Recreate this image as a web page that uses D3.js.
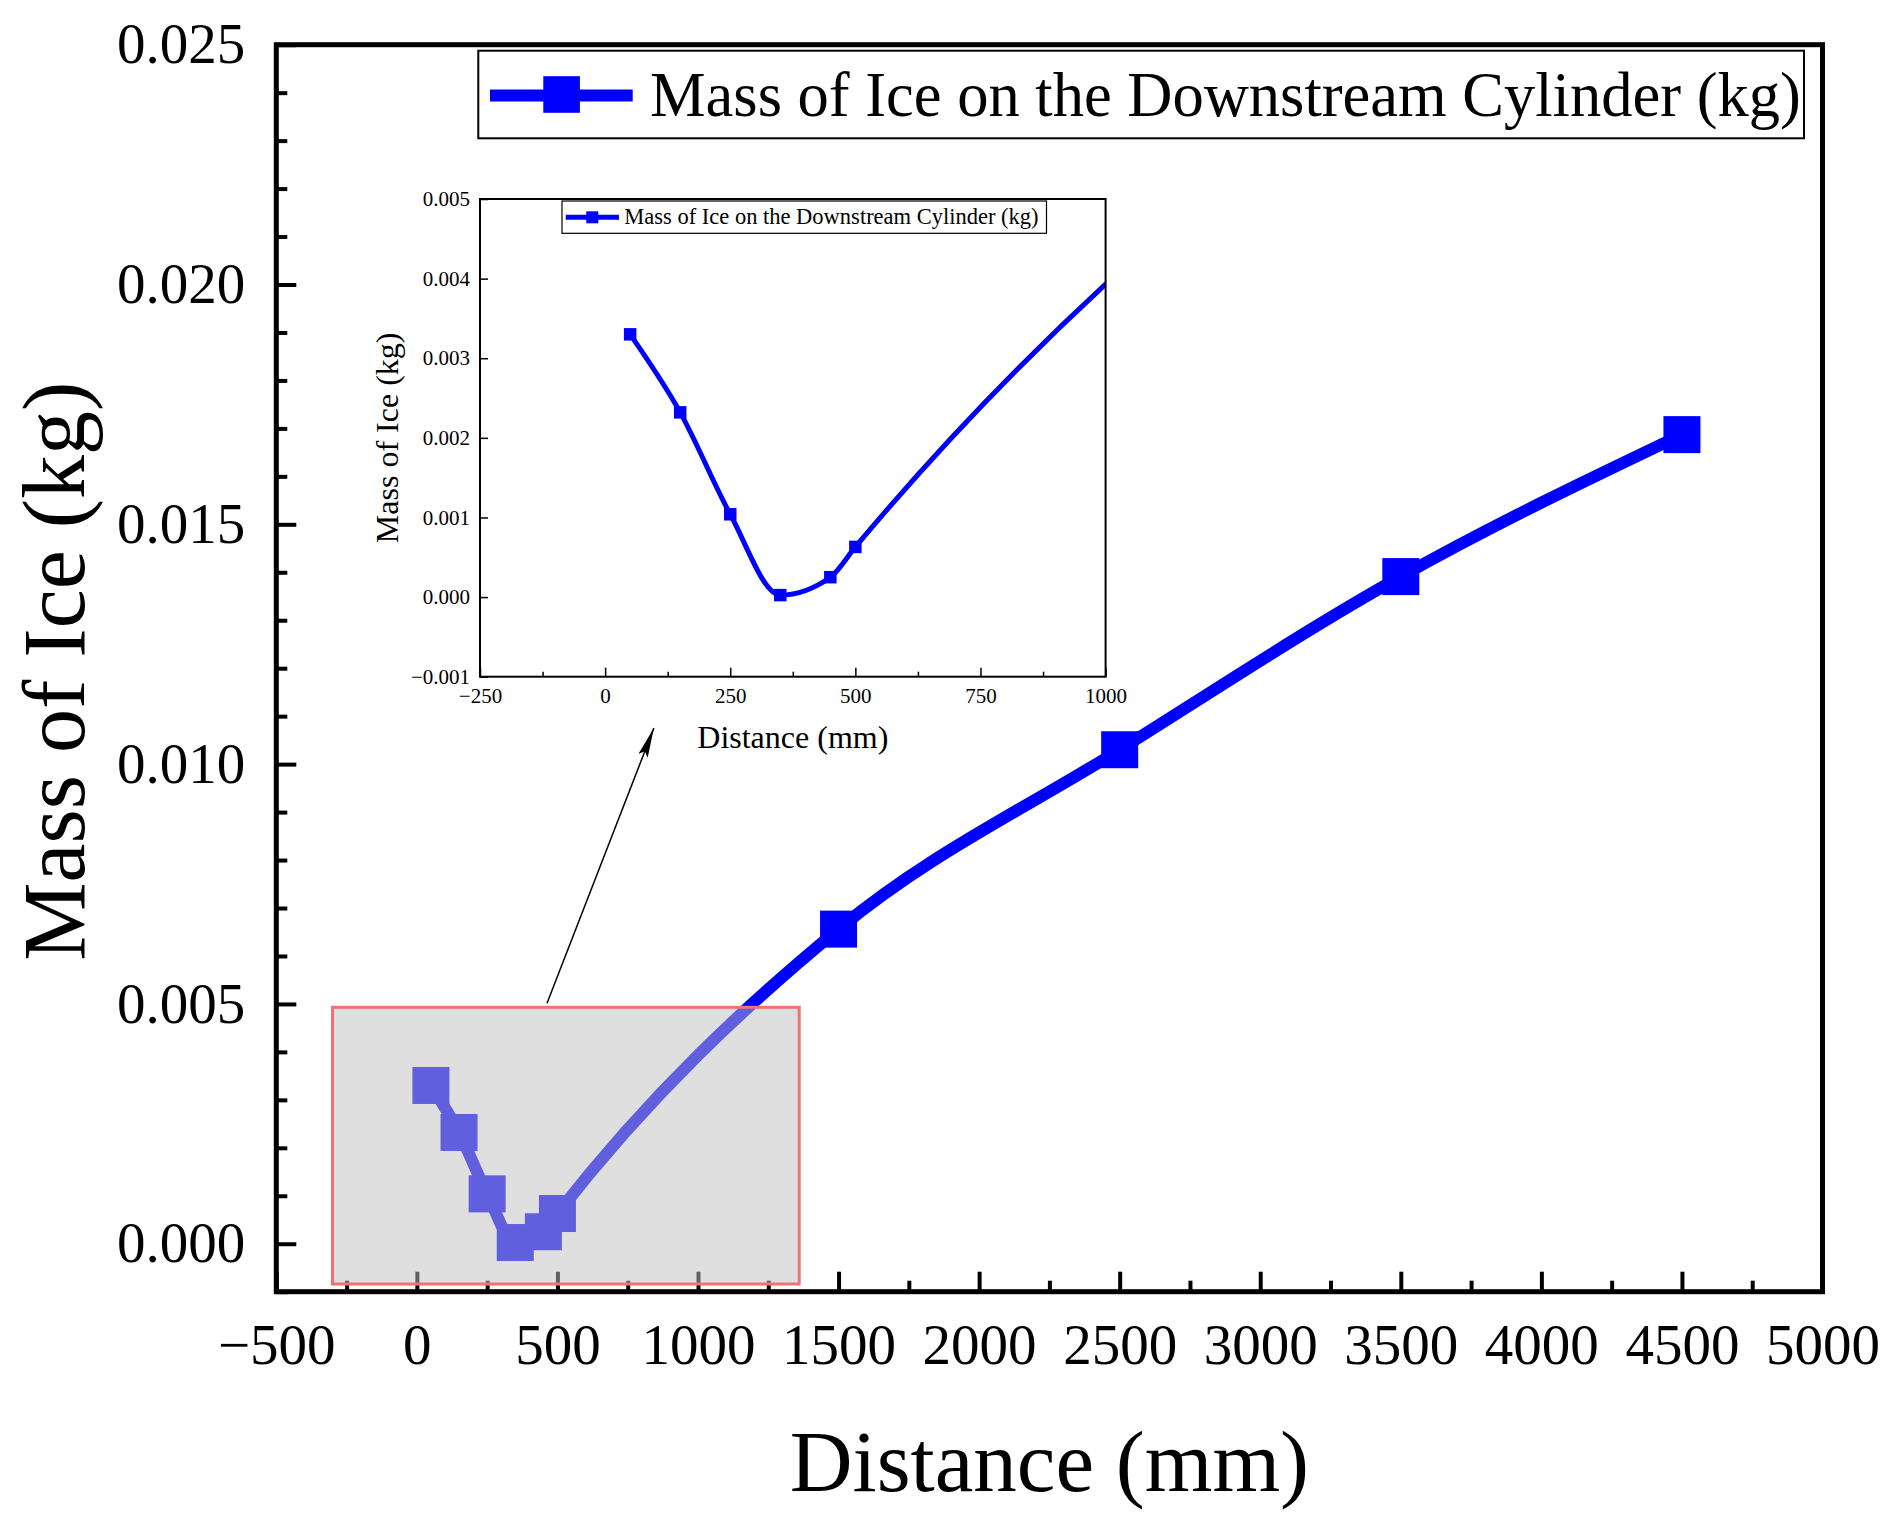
<!DOCTYPE html>
<html><head><meta charset="utf-8">
<script src="https://cdn.jsdelivr.net/npm/d3@7/dist/d3.min.js"></script>
<style>
body{margin:0;background:#fff}
svg{display:block}
text{font-family:"Liberation Serif","Times New Roman",serif;fill:#000}
</style>
</head><body>
<svg id="c" width="1897" height="1530"></svg>
<script>
// ---- data ----
const distance = [50, 150, 250, 350, 450, 500, 1500, 2500, 3500, 4500];
const iceMass  = [0.0033, 0.00232, 0.00104, 0.000025, 0.00025, 0.00063, 0.00656, 0.0103, 0.01391, 0.01687];
const seriesName = "Mass of Ice on the Downstream Cylinder (kg)";
const xTitle = "Distance (mm)";
const yTitle = "Mass of Ice (kg)";
const mainXTicks = [-500, 0, 500, 1000, 1500, 2000, 2500, 3000, 3500, 4000, 4500, 5000];
const mainXMinor = [-250, 250, 750, 1250, 1750, 2250, 2750, 3250, 3750, 4250, 4750];
const mainYTicks = [0, 0.005, 0.010, 0.015, 0.020, 0.025];
const mainYMinor = [-0.001, 0.001, 0.002, 0.003, 0.004, 0.006, 0.007, 0.008, 0.009, 0.011, 0.012, 0.013, 0.014, 0.016, 0.017, 0.018, 0.019, 0.021, 0.022, 0.023, 0.024];
const insetXTicks = [-250, 0, 250, 500, 750, 1000];
const insetXMinor = [-125, 125, 375, 625, 875];
const insetYTicks = [-0.001, 0, 0.001, 0.002, 0.003, 0.004, 0.005];
const zoomRegionX = [-300, 1360];
const zoomRegionY = [-0.00084, 0.00493];

const data = distance.map((d, i) => ({x: d, y: iceMass[i]}));
const svg = d3.select("#c");
const BLUE = "#0000ff";

// ---- main scales ----
const L = 276.3, R = 1822.5, T = 44.7, B = 1291.7;
const x = d3.scaleLinear().domain([-500, 5000]).range([L, R]);
const y = d3.scaleLinear().domain([-0.001, 0.025]).range([B, T]);

// ---- inset scales ----
const iL = 480, iR = 1105.6, iT = 199, iB = 676.7;
const xi = d3.scaleLinear().domain([-250, 1000]).range([iL, iR]);
const yi = d3.scaleLinear().domain([-0.001, 0.005]).range([iB, iT]);

// ---- main series ----
const mainLine = d3.line().x(d => x(d.x)).y(d => y(d.y)).curve(d3.curveMonotoneX);
svg.append("path").datum(data).attr("d", mainLine)
  .attr("fill", "none").attr("stroke", BLUE).attr("stroke-width", 12).attr("stroke-linejoin", "round");
const MS = 37;
svg.append("g").selectAll("rect").data(data).join("rect")
  .attr("x", d => x(d.x) - MS / 2).attr("y", d => y(d.y) - MS / 2)
  .attr("width", MS).attr("height", MS).attr("fill", BLUE);

// ---- inset ----
const inset = svg.append("g");
inset.append("rect").attr("x", iL).attr("y", iT).attr("width", iR - iL).attr("height", iB - iT).attr("fill", "#fff");
svg.append("defs").append("clipPath").attr("id", "iclip")
  .append("rect").attr("x", iL).attr("y", iT).attr("width", iR - iL).attr("height", iB - iT);
const insetLine = d3.line().x(d => xi(d.x)).y(d => yi(d.y)).curve(d3.curveMonotoneX);
const ig = inset.append("g").attr("clip-path", "url(#iclip)");
ig.append("path").datum(data).attr("d", insetLine)
  .attr("fill", "none").attr("stroke", BLUE).attr("stroke-width", 5);
const ims = 12.5;
ig.selectAll("rect.m").data(data.filter(d => d.x <= 1000)).join("rect").attr("class", "m")
  .attr("x", d => xi(d.x) - ims / 2).attr("y", d => yi(d.y) - ims / 2)
  .attr("width", ims).attr("height", ims).attr("fill", BLUE);

// inset axes
const ixAxis = inset.append("g").attr("transform", `translate(0,${iB})`)
  .call(d3.axisBottom(xi).tickValues(insetXTicks).tickSize(-9).tickSizeOuter(0).tickFormat(d3.format("d")));
ixAxis.selectAll("text").attr("y", 26.3).attr("dy", 0).style("font-size", "21px");
inset.append("g").attr("transform", `translate(0,${iB})`)
  .call(d3.axisBottom(xi).tickValues(insetXMinor).tickSize(-5).tickFormat(""))
  .call(g => g.select(".domain").remove());
const iyAxis = inset.append("g").attr("transform", `translate(${iL},0)`)
  .call(d3.axisLeft(yi).tickValues(insetYTicks).tickSize(-8).tickSizeOuter(0).tickPadding(10).tickFormat(d3.format(".3f")));
iyAxis.selectAll("text").style("font-size", "21px");
inset.selectAll(".tick line").attr("stroke", "#000").attr("stroke-width", 1.5);
inset.selectAll(".domain").remove();
inset.append("rect").attr("x", iL).attr("y", iT).attr("width", iR - iL).attr("height", iB - iT)
  .attr("fill", "none").attr("stroke", "#000").attr("stroke-width", 2);
inset.append("text").attr("x", (iL + iR) / 2).attr("y", 748).attr("text-anchor", "middle")
  .style("font-size", "32px").text(xTitle);
inset.append("text").attr("transform", `translate(398,${(iT + iB) / 2}) rotate(-90)`).attr("text-anchor", "middle")
  .style("font-size", "32px").text(yTitle);
// inset legend
const il = inset.append("g");
il.append("rect").attr("x", 562).attr("y", 201).attr("width", 484.5).attr("height", 32.3)
  .attr("fill", "#fff").attr("stroke", "#000").attr("stroke-width", 1.2);
il.append("line").attr("x1", 565.7).attr("x2", 619).attr("y1", 217.3).attr("y2", 217.3)
  .attr("stroke", BLUE).attr("stroke-width", 5);
il.append("rect").attr("x", 592.3 - 6).attr("y", 217.3 - 6).attr("width", 12).attr("height", 12).attr("fill", BLUE);
il.append("text").attr("x", 624.3).attr("y", 224.3).style("font-size", "22.5px").text(seriesName);

// ---- main axes ----
const axes = svg.append("g");
const xAxis = axes.append("g").attr("transform", `translate(0,${B})`)
  .call(d3.axisBottom(x).tickValues(mainXTicks).tickSize(-20).tickSizeOuter(0).tickFormat(d3.format("d")));
xAxis.selectAll("text").attr("y", 72.3).attr("dy", 0).style("font-size", "57px");
axes.append("g").attr("transform", `translate(0,${B})`)
  .call(d3.axisBottom(x).tickValues(mainXMinor).tickSize(-11).tickFormat(""));
const yAxis = axes.append("g").attr("transform", `translate(${L},0)`)
  .call(d3.axisLeft(y).tickValues(mainYTicks).tickSize(-20).tickSizeOuter(0).tickPadding(31).tickFormat(d3.format(".3f")));
yAxis.selectAll("text").style("font-size", "57px");
axes.append("g").attr("transform", `translate(${L},0)`)
  .call(d3.axisLeft(y).tickValues(mainYMinor).tickSize(-11).tickFormat(""));
axes.selectAll(".domain").remove();
axes.selectAll(".tick line").attr("stroke", "#000").attr("stroke-width", 4);
axes.append("rect").attr("x", L).attr("y", T).attr("width", R - L).attr("height", B - T)
  .attr("fill", "none").attr("stroke", "#000").attr("stroke-width", 5);
axes.append("text").attr("x", (L + R) / 2).attr("y", 1491).attr("text-anchor", "middle")
  .style("font-size", "87px").text(xTitle);
axes.append("text").attr("transform", `translate(84,${(T + B) / 2 + 3}) rotate(-90)`).attr("text-anchor", "middle")
  .style("font-size", "88px").text(yTitle);

// ---- main legend ----
const lg = svg.append("g");
lg.append("rect").attr("x", 478.3).attr("y", 50.7).attr("width", 1325.7).attr("height", 87.6)
  .attr("fill", "#fff").attr("stroke", "#000").attr("stroke-width", 2);
lg.append("line").attr("x1", 490).attr("x2", 632.7).attr("y1", 95.5).attr("y2", 95.5)
  .attr("stroke", BLUE).attr("stroke-width", 12);
lg.append("rect").attr("x", 561.6 - 18.3).attr("y", 94.5 - 18.3).attr("width", 36.6).attr("height", 36.6).attr("fill", BLUE);
lg.append("text").attr("x", 650).attr("y", 116).style("font-size", "62.5px").text(seriesName);

// ---- shaded zoom region ----
svg.append("rect")
  .attr("x", x(zoomRegionX[0])).attr("y", y(zoomRegionY[1]))
  .attr("width", x(zoomRegionX[1]) - x(zoomRegionX[0]))
  .attr("height", y(zoomRegionY[0]) - y(zoomRegionY[1]))
  .attr("fill", "rgb(192,192,192)").attr("fill-opacity", 0.5)
  .attr("stroke", "#f07272").attr("stroke-width", 3);

// ---- arrow ----
svg.select("defs").append("marker").attr("id", "ah")
  .attr("viewBox", "0 0 30 10").attr("refX", 30).attr("refY", 5)
  .attr("markerWidth", 30).attr("markerHeight", 10).attr("markerUnits", "userSpaceOnUse")
  .attr("orient", "auto")
  .append("path").attr("d", "M0,0 L30,5 L0,10 L5,5 Z").attr("fill", "#000");
svg.append("line")
  .attr("x1", x(463)).attr("y1", y(zoomRegionY[1]) - 4)
  .attr("x2", xi(100) - 1.3).attr("y2", iB + 51.3)
  .attr("stroke", "#000").attr("stroke-width", 1.5).attr("marker-end", "url(#ah)");
</script>
</body></html>
